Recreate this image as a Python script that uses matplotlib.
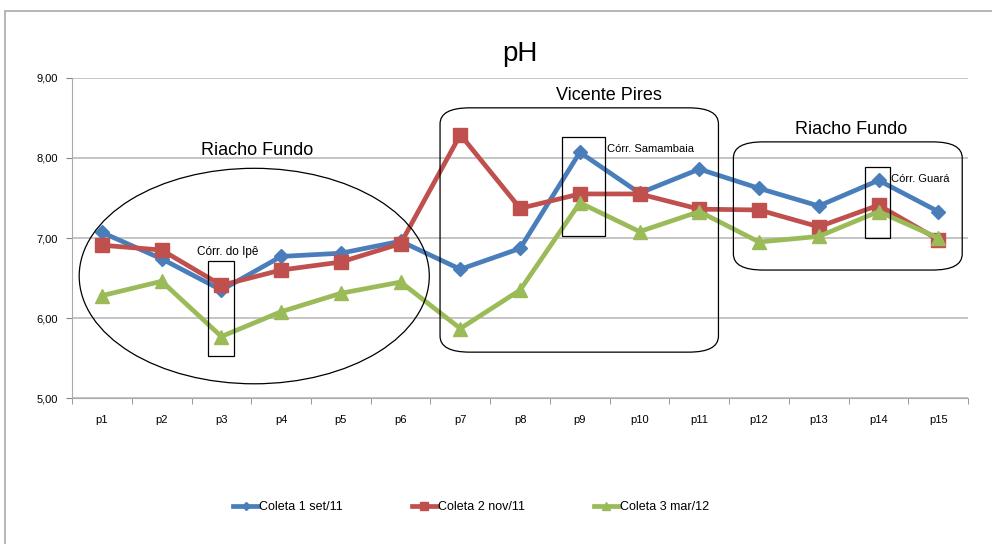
import matplotlib.pyplot as plt
from matplotlib.patches import Ellipse, FancyBboxPatch, Rectangle
from matplotlib.ticker import FuncFormatter

pontos = ['p%d' % i for i in range(1, 16)]
coleta1 = [7.07, 6.74, 6.35, 6.77, 6.81, 6.96, 6.61, 6.87, 8.07, 7.56, 7.86, 7.62, 7.40, 7.72, 7.33]
coleta2 = [6.91, 6.85, 6.41, 6.60, 6.70, 6.93, 8.29, 7.37, 7.55, 7.55, 7.36, 7.35, 7.14, 7.41, 6.98]
coleta3 = [6.28, 6.46, 5.77, 6.08, 6.31, 6.45, 5.87, 6.35, 7.44, 7.08, 7.33, 6.95, 7.02, 7.33, 7.00]
series = ['Coleta 1 set/11', 'Coleta 2 nov/11', 'Coleta 3 mar/12']

plt.rcParams['font.family'] = ['Liberation Sans', 'DejaVu Sans']

fig = plt.figure(figsize=(9.92, 5.44), dpi=100)
ax = fig.add_axes([0.0726, 0.268, 0.9034, 0.589])

x = list(range(len(pontos)))
ax.plot(x, coleta1, color='#4A7EBB', lw=3.4, marker='D', ms=7, label=series[0], zorder=3)
ax.plot(x, coleta2, color='#C0504D', lw=3.4, marker='s', ms=10, label=series[1], zorder=4)
ax.plot(x, coleta3, color='#9BBB59', lw=3.4, marker='^', ms=10, label=series[2], zorder=5)

ax.set_xlim(-0.5, 14.5)
ax.set_ylim(5, 9)
ax.set_yticks([5, 6, 7, 8, 9])
ax.yaxis.set_major_formatter(FuncFormatter(lambda v, p: ('%.2f' % v).replace('.', ',')))
ax.set_xticks(x)
ax.set_xticklabels(pontos)
ax.set_xticks([i - 0.5 for i in range(16)], minor=True)
ax.tick_params(axis='x', which='major', length=0, pad=12, labelsize=8)
ax.tick_params(axis='x', which='minor', length=4, color='#888888', direction='out')
ax.tick_params(axis='y', length=4, color='#888888', labelsize=8, pad=6)
ax.grid(axis='y', color='#BBBBBB', lw=1.2)
for s in ['top', 'right']:
    ax.spines[s].set_visible(False)
ax.spines['left'].set_color('#AAAAAA')
ax.spines['bottom'].set_color('#AAAAAA')
ax.set_axisbelow(True)

ax.set_title('pH', fontsize=20, pad=12)

# anotações
ax.add_patch(Ellipse((2.55, 6.525), 5.86, 2.69, fill=False, ec='black', lw=0.9, zorder=6))
ax.text(2.6, 8.09, 'Riacho Fundo', fontsize=13, ha='center', va='center')
ax.add_patch(Rectangle((1.78, 5.525), 0.43, 1.185, fill=False, ec='black', lw=0.9, zorder=6))
ax.text(2.1, 6.83, 'Córr. do Ipê', fontsize=8.5, ha='center', va='center')

ax.add_patch(FancyBboxPatch((5.66, 5.575), 4.66, 3.05, boxstyle='round,pad=0,rounding_size=0.5',
                            mutation_aspect=0.4, fill=False, ec='black', lw=0.9, zorder=6))
ax.text(8.49, 8.775, 'Vicente Pires', fontsize=13, ha='center', va='center')
ax.add_patch(Rectangle((7.70, 7.025), 0.72, 1.235, fill=False, ec='black', lw=0.9, zorder=6))
ax.text(8.46, 8.11, 'Córr. Samambaia', fontsize=8, ha='left', va='center')

ax.add_patch(FancyBboxPatch((10.57, 6.6), 3.83, 1.6, boxstyle='round,pad=0,rounding_size=0.5',
                            mutation_aspect=0.4, fill=False, ec='black', lw=0.9, zorder=6))
ax.text(12.54, 8.35, 'Riacho Fundo', fontsize=13, ha='center', va='center')
ax.add_patch(Rectangle((12.78, 7.0), 0.41, 0.89, fill=False, ec='black', lw=0.9, zorder=6))
ax.text(13.21, 7.74, 'Córr. Guará', fontsize=8, ha='left', va='center')

fig.legend(loc='center', bbox_to_anchor=(0.475, 0.068), ncol=3, frameon=False, fontsize=9,
           columnspacing=5.5, handlelength=2.0, handletextpad=0.1, markerscale=0.6)

fig.patches.append(Rectangle((0.005, -0.1), 1.2, 1.08, transform=fig.transFigure,
                             fill=False, ec='#AAAAAA', lw=1.2))

fig.savefig('out.png', dpi=100)
